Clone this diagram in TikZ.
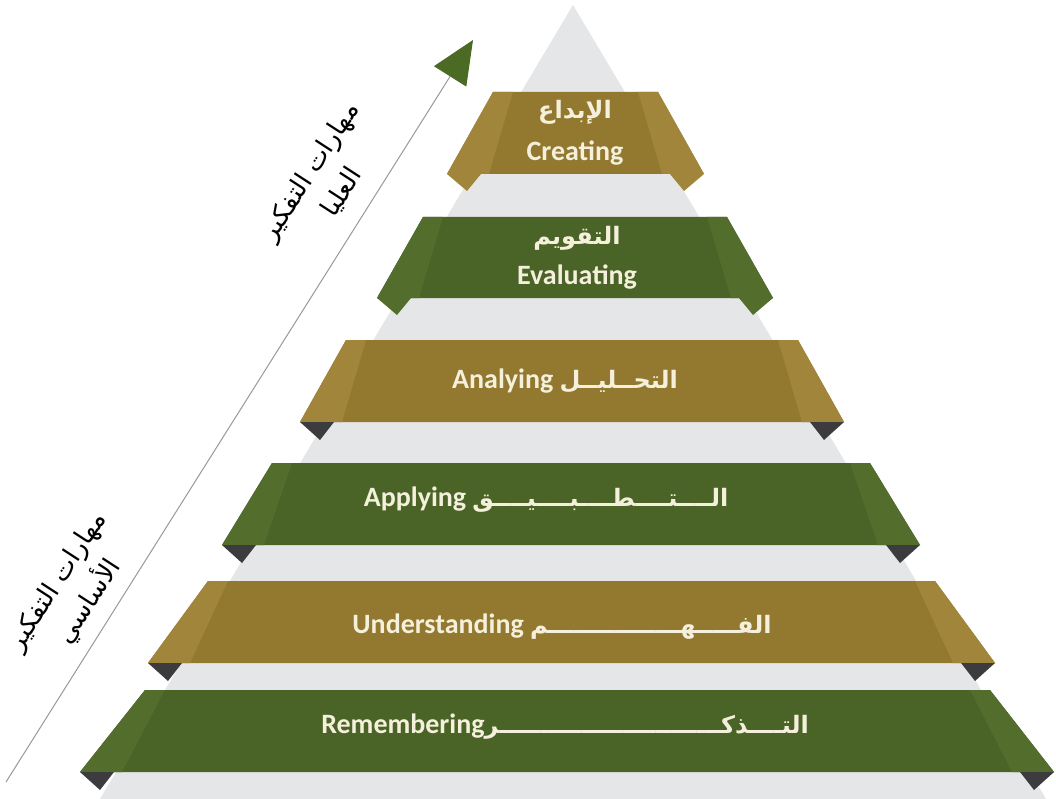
\documentclass[tikz,border=0pt]{standalone}
\usepackage{fontspec}
\setmainfont{Carlito}
\newfontfamily\arabicfont[Script=Arabic]{DejaVu Sans}
\TeXXeTstate=1
\usetikzlibrary{arrows.meta}
\definecolor{goldband}{HTML}{937830}
\definecolor{goldwing}{HTML}{A0853A}
\definecolor{greenband}{HTML}{4A6326}
\definecolor{greenwing}{HTML}{536D2D}
\definecolor{foldgray}{HTML}{3C3C3F}
\definecolor{pyrgray}{HTML}{E5E6E8}
\definecolor{creamtext}{HTML}{F5F0DC}
\definecolor{arrowgreen}{HTML}{4B6A24}
\begin{document}
\begin{tikzpicture}[x=1pt,y=-1pt,
  bandtext/.style={text=creamtext,font=\fontsize{28}{32}\selectfont\bfseries,inner sep=0pt},
  bandarabic/.style={text=creamtext,font=\fontsize{24}{28}\selectfont\arabicfont\bfseries,inner sep=0pt},
  sidelabel/.style={text=black,font=\fontsize{26}{38}\selectfont\arabicfont,align=center,rotate=57,inner sep=0pt}]
\useasboundingbox (0,0) rectangle (1056,799);
\fill[white] (0,0) rectangle (1056,799);
% pyramid background
\fill[pyrgray] (573,5) -- (1046,799) -- (100,799) -- cycle;
% arrow
\coordinate (arrowstart) at (6,782);
\coordinate (arrowtip) at (473,40);
\draw[gray!80,line width=1pt,-{Triangle[length=43pt,width=38pt,color=arrowgreen]}] (arrowstart) -- (arrowtip);
% band 1
\fill[goldband] (493,92) -- (658,92) -- (704,174) -- (447,174) -- cycle;
\fill[goldwing] (493,92) -- (513,92) -- (489,174) -- (447,174) -- cycle;
\fill[goldwing] (658,92) -- (638,92) -- (662,174) -- (704,174) -- cycle;
\fill[goldwing] (447,174) -- (481,174) -- (467,191) -- cycle;
\fill[goldwing] (704,174) -- (670,174) -- (684,191) -- cycle;
\node[bandarabic] (ibdaa) at (575,112) {\beginR الإبداع\endR};
\node[bandtext] (creating) at (575,153) {Creating};
% band 2
\fill[greenband] (423,217) -- (727,217) -- (773,298) -- (377,298) -- cycle;
\fill[greenwing] (423,217) -- (443,217) -- (419,298) -- (377,298) -- cycle;
\fill[greenwing] (727,217) -- (707,217) -- (731,298) -- (773,298) -- cycle;
\fill[greenwing] (377,298) -- (411,298) -- (397,315) -- cycle;
\fill[greenwing] (773,298) -- (739,298) -- (753,315) -- cycle;
\node[bandarabic] (taqwim) at (577,238) {\beginR التقويم\endR};
\node[bandtext] (evaluating) at (577,277) {Evaluating};
% band 3
\fill[goldband] (346,340) -- (798,340) -- (844,422) -- (300,422) -- cycle;
\fill[goldwing] (346,340) -- (366,340) -- (342,422) -- (300,422) -- cycle;
\fill[goldwing] (798,340) -- (778,340) -- (802,422) -- (844,422) -- cycle;
\fill[foldgray] (300,422) -- (334,422) -- (320,440) -- cycle;
\fill[foldgray] (844,422) -- (810,422) -- (824,440) -- cycle;
\node[bandtext] (analying) at (565,381) {Analying {\arabicfont\fontsize{24}{28}\selectfont\beginR التحــليــل\endR}};
% band 4
\fill[greenband] (272,463) -- (870,463) -- (920,545) -- (222,545) -- cycle;
\fill[greenwing] (272,463) -- (292,463) -- (264,545) -- (222,545) -- cycle;
\fill[greenwing] (870,463) -- (850,463) -- (878,545) -- (920,545) -- cycle;
\fill[foldgray] (222,545) -- (256,545) -- (242,563) -- cycle;
\fill[foldgray] (920,545) -- (886,545) -- (900,563) -- cycle;
\node[bandtext] (applying) at (546,500) {Applying {\arabicfont\fontsize{24}{28}\selectfont\beginR الــــتــــطــــبــــيــــق\endR}};
% band 5
\fill[goldband] (208,581) -- (935,581) -- (995,663) -- (148,663) -- cycle;
\fill[goldwing] (208,581) -- (228,581) -- (190,663) -- (148,663) -- cycle;
\fill[goldwing] (935,581) -- (915,581) -- (953,663) -- (995,663) -- cycle;
\fill[foldgray] (148,663) -- (182,663) -- (168,681) -- cycle;
\fill[foldgray] (995,663) -- (961,663) -- (975,681) -- cycle;
\node[bandtext] (understanding) at (562,627) {Understanding {\arabicfont\fontsize{24}{28}\selectfont\beginR الفـــــهــــــــــــــــم\endR}};
% band 6
\fill[greenband] (145,690) -- (990,690) -- (1054,772) -- (80,772) -- cycle;
\fill[greenwing] (145,690) -- (165,690) -- (122,772) -- (80,772) -- cycle;
\fill[greenwing] (990,690) -- (970,690) -- (1012,772) -- (1054,772) -- cycle;
\fill[foldgray] (80,772) -- (114,772) -- (100,790) -- cycle;
\fill[foldgray] (1054,772) -- (1020,772) -- (1034,790) -- cycle;
\node[bandtext] (remembering) at (565,727) {Remembering{\arabicfont\fontsize{24}{28}\selectfont\beginR التــــذكـــــــــــــــــــــــــــر\endR}};
% side labels
\node[sidelabel] (higher) at (326,182) {\beginR مهارات التفكير\endR\\\beginR العليا\endR};
\node[sidelabel] (basic) at (74,592) {\beginR مهارات التفكير\endR\\\beginR الأساسي\endR};
\end{tikzpicture}
\end{document}
